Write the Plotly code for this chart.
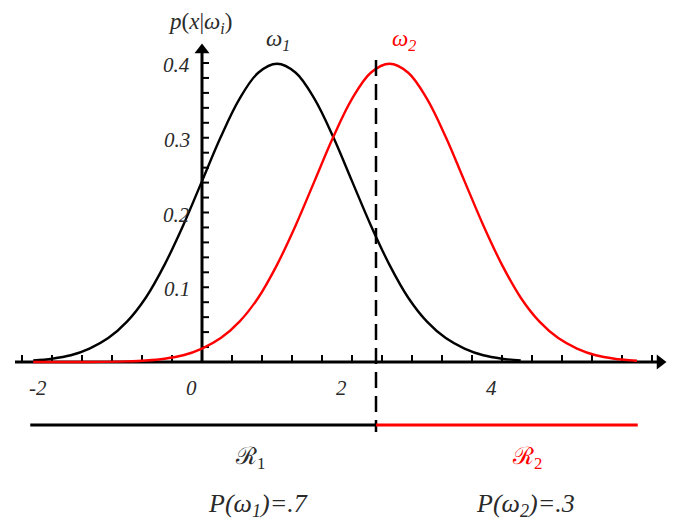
import plotly.graph_objects as go

# ---- data ----
x1 = [-2.25, -2.0, -1.75, -1.5, -1.25, -1.0, -0.75, -0.5, -0.25, 0.0, 0.25, 0.5, 0.75, 1.0,
      1.25, 1.5, 1.75, 2.0, 2.25, 2.5, 2.75, 3.0, 3.25, 3.5, 3.75, 4.0, 4.25]
p1 = [0.002, 0.0044, 0.009, 0.018, 0.032, 0.054, 0.086, 0.130, 0.183, 0.242, 0.301, 0.352, 0.387, 0.399,
      0.387, 0.352, 0.301, 0.242, 0.183, 0.130, 0.086, 0.054, 0.032, 0.018, 0.009, 0.0044, 0.002]
x2 = [-2.25, -1.5, -1.0, -0.75, -0.5, -0.25, 0.0, 0.25, 0.5, 0.75, 1.0, 1.25, 1.5, 1.75, 2.0, 2.25,
      2.5, 2.75, 3.0, 3.25, 3.5, 3.75, 4.0, 4.25, 4.5, 4.75, 5.0, 5.25, 5.5, 5.75, 5.8]
p2 = [0.0, 0.0001, 0.0009, 0.002, 0.0044, 0.009, 0.018, 0.032, 0.054, 0.086, 0.130, 0.183, 0.242, 0.301,
      0.352, 0.387, 0.399, 0.387, 0.352, 0.301, 0.242, 0.183, 0.130, 0.086, 0.054, 0.032, 0.018, 0.009,
      0.0044, 0.002, 0.0017]
x_tick_labels = [-2, 0, 2, 4]
y_tick_labels = [0.1, 0.2, 0.3, 0.4]
x_minor = [round(-2.4 + 0.4 * i, 2) for i in range(22)]
y_minor = [round(0.02 * i, 2) for i in range(1, 21)]
boundary = 2.32
x_start, x_end = -2.29, 5.81
priors = {"ω1": 0.7, "ω2": 0.3}

RED = "#ff0000"
FONT = "Liberation Serif"
TXT = "#2a2a2a"

# page-pixel helpers (x=0 at page px 202, y=0 at page px 362; 1 x-unit = 75 px, 0.1 y = 74.75 px)
PX = 1 / 75.0
PY = 0.1 / 74.75
def dx(p):
    return (p - 202) * PX
def dy(p):
    return (362 - p) * PY

fig = go.Figure()

# axes lines
fig.add_trace(go.Scatter(x=[dx(15), dx(660)], y=[0, 0], mode="lines",
                         line=dict(color="black", width=3), hoverinfo="skip"))
fig.add_trace(go.Scatter(x=[0, 0], y=[0, dy(52)], mode="lines",
                         line=dict(color="black", width=3), hoverinfo="skip"))
fig.add_trace(go.Scatter(x=[dx(660)], y=[0], mode="markers",
                         marker=dict(symbol="triangle-right", size=13, color="black"), hoverinfo="skip"))
fig.add_trace(go.Scatter(x=[0], y=[dy(50)], mode="markers",
                         marker=dict(symbol="triangle-up", size=13, color="black"), hoverinfo="skip"))

# minor ticks
tx, ty = [], []
for v in x_minor:
    tx += [v, v, None]
    ty += [0, 7 * PY, None]
for v in y_minor:
    tx += [0, 7 * PX, None]
    ty += [v, v, None]
fig.add_trace(go.Scatter(x=tx, y=ty, mode="lines", line=dict(color="black", width=2), hoverinfo="skip"))

# curves
fig.add_trace(go.Scatter(x=x1, y=p1, mode="lines", line=dict(color="black", width=2.4, shape="spline"),
                         hoverinfo="skip"))
fig.add_trace(go.Scatter(x=x2, y=p2, mode="lines", line=dict(color=RED, width=2.4, shape="spline"),
                         hoverinfo="skip"))

# dashed boundary
fig.add_trace(go.Scatter(x=[boundary, boundary], y=[dy(60), dy(432)], mode="lines",
                         line=dict(color="black", width=2.5, dash="16px,8px"), hoverinfo="skip"))

# regions
yreg = dy(425)
fig.add_trace(go.Scatter(x=[x_start, boundary], y=[yreg, yreg], mode="lines",
                         line=dict(color="black", width=3), hoverinfo="skip"))
fig.add_trace(go.Scatter(x=[boundary, x_end], y=[yreg, yreg], mode="lines",
                         line=dict(color=RED, width=3), hoverinfo="skip"))

ann = []
def txt(x, y, s, size=20, color=TXT, xanchor="center", yanchor="middle"):
    ann.append(dict(x=x, y=y, text=s, showarrow=False, xanchor=xanchor, yanchor=yanchor,
                    font=dict(family=FONT, size=size, color=color)))

for v in x_tick_labels:
    txt(v - 3 * PX, dy(388), f"<i>{v}</i>", size=21, xanchor="right")
for v in y_tick_labels:
    txt(-10 * PX, v - 2 * PY, f"<i>{v}</i>", size=21, xanchor="right")

txt(dx(200), dy(23), "<i>p</i>(<i>x</i>|<i>ω<sub>i</sub></i>)", size=23)
txt(dx(278), dy(40), "<i>ω<sub>1</sub></i>", size=23)
txt(dx(404), dy(40), "<i>ω<sub>2</sub></i>", size=23, color=RED)
txt(dx(671), 0.0, "<i>x</i>", size=21, xanchor="left")
txt(dx(250), dy(458), "ℛ<sub>1</sub>", size=24)
txt(dx(527), dy(458), "ℛ<sub>2</sub>", size=24, color=RED)
txt(dx(258), dy(505), "<i>P(ω<sub>1</sub>)=.%d</i>" % round(priors["ω1"] * 10), size=26)
txt(dx(525), dy(505), "<i>P(ω<sub>2</sub>)=.%d</i>" % round(priors["ω2"] * 10), size=26)

# the page body has an 8px margin: figure spans page px 8..681 x 8..527
fig.update_layout(
    width=673, height=519,
    margin=dict(l=0, r=0, t=0, b=0),
    paper_bgcolor="white", plot_bgcolor="white",
    showlegend=False,
    xaxis=dict(range=[dx(8), dx(681)], visible=False, fixedrange=True),
    yaxis=dict(range=[dy(527), dy(8)], visible=False, fixedrange=True),
    annotations=ann,
)

fig.write_html("out.html")
